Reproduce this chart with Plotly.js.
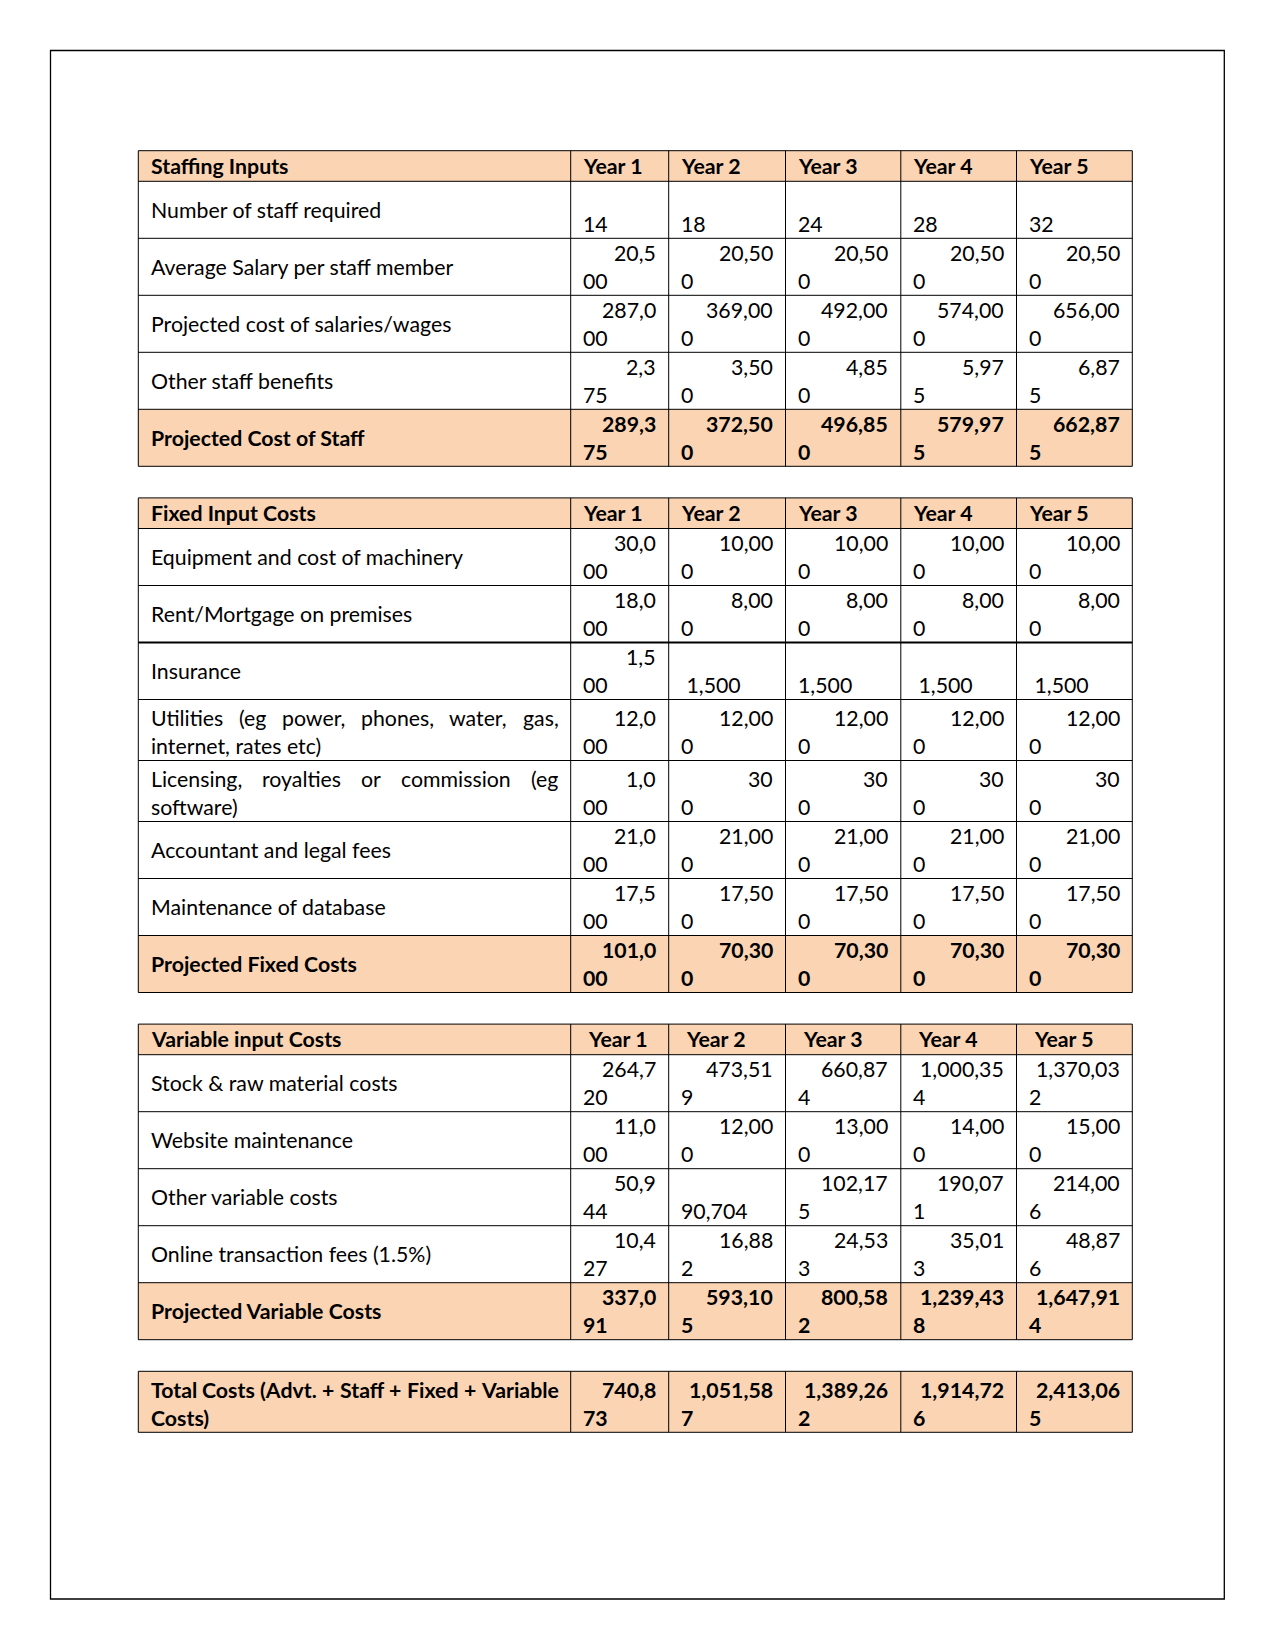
<!DOCTYPE html>
<html><head><meta charset="utf-8">
<script src="https://cdn.plot.ly/plotly-3.0.1.min.js"></script>
<style>html,body{margin:0;padding:0;background:#fff}</style>
</head><body><div id="chart" style="width:1275px;height:1650px"></div>
<script>
// ---------------- DATA ----------------
const years = ["Year 1", "Year 2", "Year 3", "Year 4", "Year 5"];

const staffTitle = "Staffing Inputs";
const staffLabels = ["Number of staff required", "Average Salary per staff member",
  "Projected cost of salaries/wages", "Other staff benefits", "Projected Cost of Staff"];
const staffNumber   = [14, 18, 24, 28, 32];
const avgSalary     = [20500, 20500, 20500, 20500, 20500];
const salaryCost    = [287000, 369000, 492000, 574000, 656000];
const staffBenefits = [2375, 3500, 4850, 5975, 6875];
const staffTotal    = [289375, 372500, 496850, 579975, 662875];

const fixedTitle = "Fixed Input Costs";
const fixedLabels = ["Equipment and cost of machinery", "Rent/Mortgage on premises", "Insurance",
  "Utilities (eg power, phones, water, gas, internet, rates etc)",
  "Licensing, royalties or commission (eg software)", "Accountant and legal fees",
  "Maintenance of database", "Projected Fixed Costs"];
const equipment   = [30000, 10000, 10000, 10000, 10000];
const rent        = [18000, 8000, 8000, 8000, 8000];
const insurance   = [1500, 1500, 1500, 1500, 1500];
const utilities   = [12000, 12000, 12000, 12000, 12000];
const licensing   = [1000, 300, 300, 300, 300];
const accountant  = [21000, 21000, 21000, 21000, 21000];
const maintenance = [17500, 17500, 17500, 17500, 17500];
const fixedTotal  = [101000, 70300, 70300, 70300, 70300];

const varTitle = "Variable input Costs";
const varLabels = ["Stock & raw material costs", "Website maintenance", "Other variable costs",
  "Online transaction fees (1.5%)", "Projected Variable Costs"];
const stockCosts   = [264720, 473519, 660874, 1000354, 1370032];
const websiteCosts = [11000, 12000, 13000, 14000, 15000];
const otherVarCost = [50944, 90704, 102175, 190071, 214006];
const onlineFees   = [10427, 16882, 24533, 35013, 48876];
const varTotal     = [337091, 593105, 800582, 1239438, 1647914];

const totalLabel = "Total Costs (Advt. + Staff + Fixed + Variable Costs)";
const totalCosts = [740873, 1051587, 1389262, 1914726, 2413065];

// cells whose number is not broken inside the cell (printed on the lower line)
const unbrokenCells = {"Number of staff required": [0,1,2,3,4], "Insurance": [1,2,3,4], "Other variable costs": [1]};
const leadingSpaceCells = {"Insurance": [1,3,4]};

// ---------------- LAYOUT ----------------
const W = 1275, H = 1650;
const FS = 21.3, FONT = "Lato";
const PEACH = "#FBD4B4";
const colEdges = [138.3, 570.7, 668.7, 785.5, 900.8, 1016.5, 1132.3];
const HEAD_H = 30.6, ROW_H = 57, TALL_H = 61, GAP = 31.6, PAD = 12.4;
const TOP = 150.7;

const tables = [
  {title: staffTitle, labels: staffLabels, rows: [staffNumber, avgSalary, salaryCost, staffBenefits, staffTotal], hdrIndent: 0},
  {title: fixedTitle, labels: fixedLabels, rows: [equipment, rent, insurance, utilities, licensing, accountant, maintenance, fixedTotal], hdrIndent: 0, thickAfter: 1},
  {title: varTitle, labels: varLabels, rows: [stockCosts, websiteCosts, otherVarCost, onlineFees, varTotal], hdrIndent: 5},
  {title: null, labels: [totalLabel], rows: [totalCosts]}
];

const canvas = document.createElement("canvas");
const ctx = canvas.getContext("2d");
function tw(s, bold) { ctx.font = (bold ? "bold " : "") + FS + "px " + FONT; return ctx.measureText(s).width; }
function wrap(text, bold, maxW) {
  const words = text.split(" "); const lines = []; let cur = [];
  for (const w of words) {
    const trial = cur.concat([w]).join(" ");
    if (cur.length && tw(trial, bold) > maxW) { lines.push(cur); cur = [w]; } else cur.push(w);
  }
  if (cur.length) lines.push(cur);
  return lines;
}

const shapes = [], lines = [], ann = [];
function fillRect(x0, y0, x1, y1, c) {
  shapes.push({type: "rect", xref: "x", yref: "y", x0, y0, x1, y1, fillcolor: c, line: {width: 0}, layer: "below"});
}
function seg(x0, y0, x1, y1, w) {
  lines.push({type: "line", xref: "x", yref: "y", x0, y0, x1, y1, line: {color: "#000", width: w || 1}, layer: "below"});
}
function txt(x, y, s, anchor, bold) {
  ann.push({x, y, xref: "x", yref: "y", text: s, showarrow: false, xanchor: anchor, yanchor: "middle",
    borderpad: 0, borderwidth: 0, font: {family: FONT, size: FS, color: "#000", weight: bold ? 700 : 400}});
}
function fmt(v) { return v.toLocaleString("en-US"); }

const labelMaxW = colEdges[1] - colEdges[0] - 2 * PAD;
let y = TOP;
tables.forEach((t) => {
  const yStart = y;
  const bounds = [y];
  if (t.title) {
    fillRect(colEdges[0], y, colEdges[6], y + HEAD_H, PEACH);
    txt(colEdges[0] + PAD, y + HEAD_H / 2, t.title, "left", true);
    years.forEach((yr, i) => txt(colEdges[i + 1] + PAD + t.hdrIndent, y + HEAD_H / 2, yr, "left", true));
    y += HEAD_H; bounds.push(y);
  }
  t.rows.forEach((vals, r) => {
    const label = t.labels[r];
    const bold = (r === t.rows.length - 1);
    const lns = wrap(label, bold, labelMaxW);
    const tall = lns.length > 1;
    const h = tall ? TALL_H : ROW_H;
    const l1 = y + (tall ? 18.5 : 14.7), l2 = y + (tall ? 46.3 : 42.5);
    if (bold) fillRect(colEdges[0], y, colEdges[6], y + h, PEACH);
    // label
    if (!tall) {
      txt(colEdges[0] + PAD, y + h / 2, label, "left", bold);
    } else {
      lns.forEach((words, li) => {
        const ly = li === 0 ? l1 : l2;
        if (li < lns.length - 1 && words.length > 1) {
          const widths = words.map(w => tw(w, bold));
          const gap = (labelMaxW - widths.reduce((a, b) => a + b, 0)) / (words.length - 1);
          let x = colEdges[0] + PAD;
          words.forEach((w, wi) => { txt(x, ly, w, "left", bold); x += widths[wi] + gap; });
        } else {
          txt(colEdges[0] + PAD, ly, words.join(" "), "left", bold);
        }
      });
    }
    // numbers
    vals.forEach((v, c) => {
      const s = fmt(v);
      const xl = colEdges[c + 1] + PAD, xr = colEdges[c + 2] - PAD;
      if ((unbrokenCells[label] || []).includes(c)) {
        const lead = (leadingSpaceCells[label] || []).includes(c) ? "\u00a0" : "";
        txt(xl, l2, lead + s, "left", bold);
      } else {
        const k = c === 0 ? 2 : 1;
        txt(xr, l1, s.slice(0, -k), "right", bold);
        txt(xl, l2, s.slice(-k), "left", bold);
      }
    });
    y += h; bounds.push(y);
  });
  // borders
  bounds.forEach((by, i) => {
    const thick = (t.thickAfter !== undefined && i === (t.title ? t.thickAfter + 2 : t.thickAfter + 1));
    seg(colEdges[0], by, colEdges[6], by, thick ? 2.2 : 1);
  });
  colEdges.forEach(cx => seg(cx, yStart, cx, y, 1));
  y += GAP;
});

// page border
lines.push({type: "rect", xref: "x", yref: "y", x0: 50.5, y0: 50.5, x1: 1224.3, y1: 1599,
  line: {color: "#000", width: 1.3}, fillcolor: "rgba(0,0,0,0)", layer: "below"});

const layout = {
  width: W, height: H, margin: {l: 0, r: 0, t: 0, b: 0},
  paper_bgcolor: "#fff", plot_bgcolor: "#fff", showlegend: false,
  xaxis: {range: [0, W], visible: false, fixedrange: true},
  yaxis: {range: [H, 0], visible: false, fixedrange: true},
  shapes: shapes.concat(lines), annotations: ann
};
Plotly.newPlot("chart", [], layout, {staticPlot: true, displayModeBar: false});
</script></body></html>
